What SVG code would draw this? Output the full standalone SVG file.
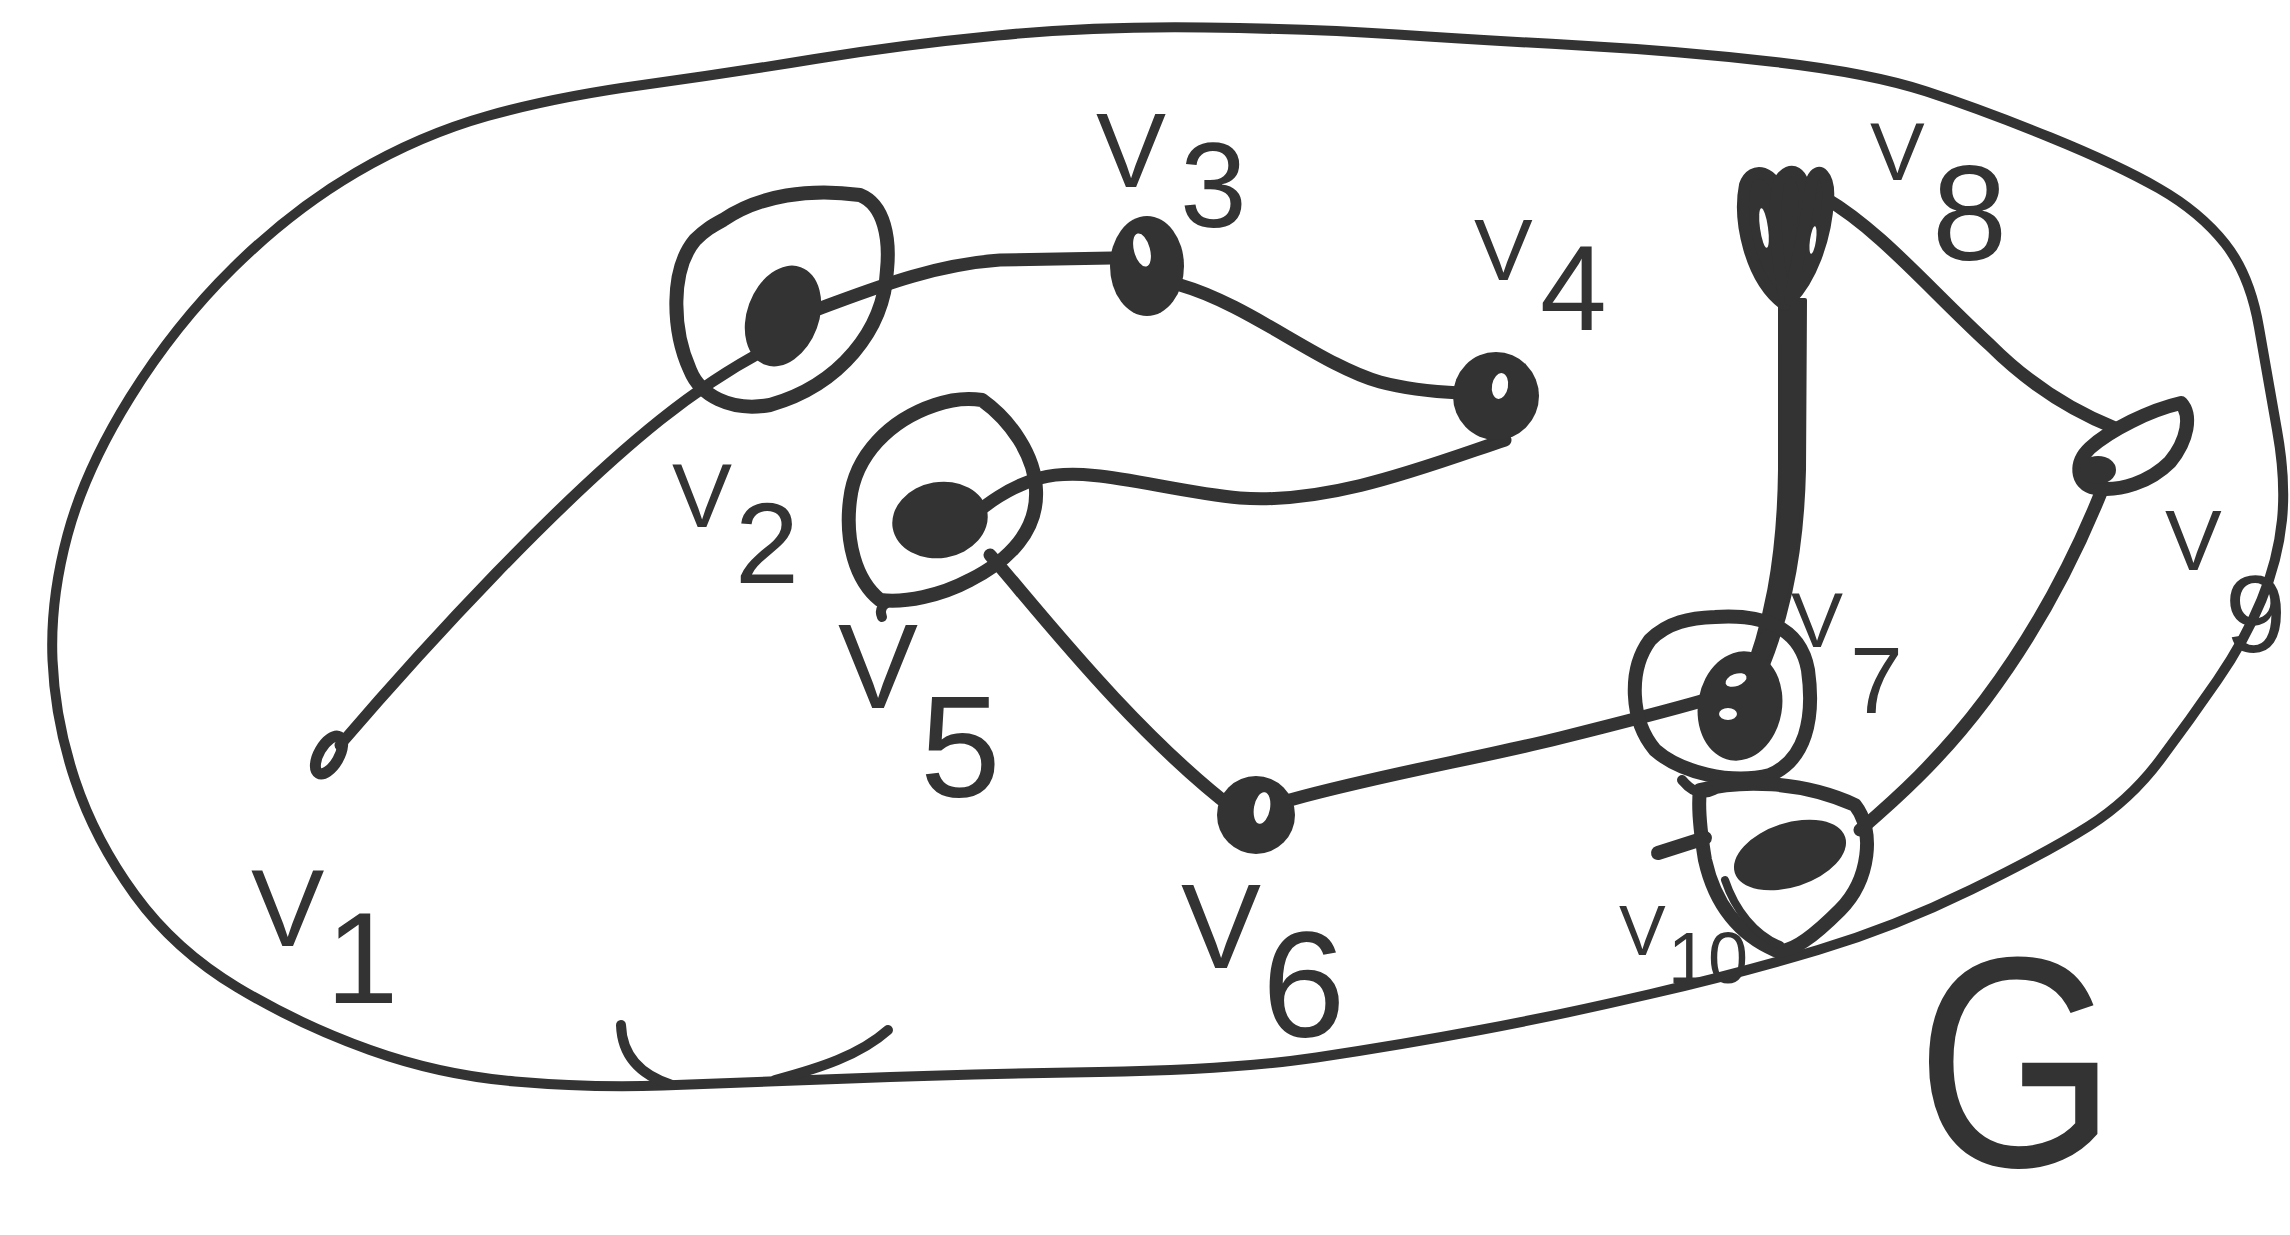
<svg xmlns="http://www.w3.org/2000/svg" width="2290" height="1235" viewBox="0 0 2290 1235">
<style>
.bd{fill:none;stroke:#333;stroke-width:10;stroke-linecap:round;stroke-linejoin:round}
.edge{fill:none;stroke:#333;stroke-width:13;stroke-linecap:round;stroke-linejoin:round}
.ring{fill:none;stroke:#333;stroke-width:14;stroke-linecap:round;stroke-linejoin:round}
.dot{fill:#333}
.hole{fill:#fff}
.lbl{fill:#333}
</style>
<rect width="2290" height="1235" fill="#fff"/>
<g id="graph-G">
<path class="bd" d="M 1204.5 27.5 Q 1314 29 1397 34.5 Q 1480 40 1580 45.5 Q 1680 51 1775 62 Q 1870 73 1926.5 91.5 Q 1983 110 2050.5 137.5 Q 2118 165 2159 188.5 Q 2200 212 2225 243.5 Q 2250 275 2259 327.5 Q 2268 380 2277 430 Q 2286 480 2282 520 Q 2278 560 2261.5 600 Q 2245 640 2217.5 680 Q 2190 720 2160 760 Q 2130 800 2089 826 Q 2048 852 1971.5 889.5 Q 1895 927 1818 950 Q 1741 973 1650.5 994 Q 1560 1015 1480 1030 Q 1400 1045 1316.5 1057.5 Q 1233 1070 1099 1072 Q 965 1074 850 1078.5 Q 735 1083 662.5 1085.5 Q 590 1088 515 1081.5 Q 440 1075 370 1050 Q 300 1025 237.5 987.5 Q 175 950 135 895 Q 95 840 75 780 Q 55 720 52.5 660 Q 50 600 67.5 535 Q 85 470 130 397.5 Q 175 325 233.5 267.5 Q 292 210 356 172.5 Q 420 135 487.5 116 Q 555 97 642.5 85 Q 730 73 815 59 Q 900 45 997.5 35.5 Q 1095 26 1204.5 27.5 Z"/>
<path class="bd" d="M 621 1025 C 622 1055 640 1075 672 1085"/>
<path class="bd" d="M 888 1030 C 860 1055 820 1068 775 1080"/>
<text class="lbl" font-family="'Liberation Sans', Roboto, sans-serif" transform="translate(1916 1166) scale(0.86 1)" font-size="300">G</text>
</g>
<g id="edges">
<path class="edge" style="stroke-width:11" d="M 340 745 C 430 640 560 500 660 420 C 710 380 745 360 775 345"/>
<path class="edge" d="M 815 310 C 870 290 930 265 1000 260 L 1112 258"/>
<path class="edge" d="M 1180 285 C 1250 305 1320 365 1380 382 C 1410 390 1440 392 1460 393"/>
<path class="edge" d="M 1505 440 C 1430 465 1330 505 1240 498 C 1160 490 1090 465 1040 478 C 1010 486 985 505 965 522"/>
<path class="edge" d="M 990 555 C 1030 600 1130 730 1235 810"/>
<path class="edge" d="M 1290 800 C 1380 775 1480 758 1560 738 C 1620 723 1660 713 1705 700"/>
<path class="edge" style="fill:#333;stroke-width:4" d="M 1780 300 L 1805 300 L 1804 470 C 1802 560 1786 630 1755 695 L 1740 689 C 1766 625 1779 560 1780 470 Z"/>
<path class="edge" d="M 1825 198 C 1880 230 1930 290 1990 345 C 2030 385 2075 412 2115 428"/>
<path class="edge" d="M 2102 490 C 2070 570 2030 640 1985 700 C 1940 760 1895 800 1860 830"/>
</g>
<g id="node-v1">
<ellipse class="ring" style="stroke-width:11" cx="329" cy="755" rx="10" ry="21" transform="rotate(30 329 755)"/>
<text class="lbl" font-family="'Liberation Sans', Roboto, sans-serif"><tspan x="251" y="946" font-size="110">V</tspan><tspan x="326" y="1003" font-size="130">1</tspan></text>
</g>
<g id="node-v2">
<path class="ring" d="M 723 220 C 760 195 810 188 860 195 C 885 205 890 240 887 270 C 884 330 840 385 770 405 C 730 412 700 395 690 370 C 672 330 670 270 695 240 C 705 230 712 226 723 220 Z"/>
<ellipse class="dot" cx="783" cy="316" rx="36" ry="52" transform="rotate(20 783 316)"/>
<text class="lbl" font-family="'Liberation Sans', Roboto, sans-serif"><tspan x="672" y="527" font-size="90">V</tspan><tspan x="735" y="583" font-size="115">2</tspan></text>
</g>
<g id="node-v3">
<ellipse class="dot" cx="1147" cy="266" rx="37" ry="50"/>
<ellipse class="hole" cx="1142" cy="250" rx="8" ry="17" transform="rotate(-15 1142 250)"/>
<text class="lbl" font-family="'Liberation Sans', Roboto, sans-serif"><tspan x="1096" y="187" font-size="105">V</tspan><tspan x="1180" y="227" font-size="120">3</tspan></text>
</g>
<g id="node-v4">
<ellipse class="dot" cx="1496" cy="396" rx="43" ry="44"/>
<ellipse class="hole" cx="1500" cy="386" rx="8" ry="13" transform="rotate(10 1500 386)"/>
<text class="lbl" font-family="'Liberation Sans', Roboto, sans-serif"><tspan x="1474" y="280" font-size="88">V</tspan><tspan x="1540" y="330" font-size="120">4</tspan></text>
</g>
<g id="node-v5">
<path class="ring" d="M 982 400 C 1010 420 1035 455 1036 490 C 1038 530 1010 560 970 580 C 940 596 905 603 880 600 C 855 580 845 540 850 500 C 855 455 890 420 935 405 C 955 398 970 398 982 400 Z"/>
<path class="ring" style="stroke-width:10" d="M 892 600 C 882 604 879 610 882 617"/>
<ellipse class="dot" cx="940" cy="520" rx="48" ry="38" transform="rotate(-10 940 520)"/>
<text class="lbl" font-family="'Liberation Sans', Roboto, sans-serif"><tspan x="838" y="708" font-size="120">V</tspan><tspan x="920" y="797" font-size="145">5</tspan></text>
</g>
<g id="node-v6">
<ellipse class="dot" cx="1256" cy="815" rx="39" ry="39"/>
<ellipse class="hole" cx="1262" cy="808" rx="8" ry="16" transform="rotate(10 1262 808)"/>
<text class="lbl" font-family="'Liberation Sans', Roboto, sans-serif"><tspan x="1181" y="968" font-size="120">V</tspan><tspan x="1262" y="1037" font-size="150">6</tspan></text>
</g>
<g id="node-v7">
<path class="ring" d="M 1715 617 C 1760 614 1800 625 1808 670 C 1815 720 1805 760 1770 775 C 1730 785 1680 772 1655 750 C 1630 720 1628 670 1650 640 C 1668 622 1690 618 1715 617 Z"/>
<ellipse class="dot" cx="1740" cy="706" rx="42" ry="55" transform="rotate(10 1740 706)"/>
<ellipse class="hole" cx="1736" cy="680" rx="11" ry="6" transform="rotate(-20 1736 680)"/>
<ellipse class="hole" cx="1728" cy="714" rx="9" ry="6"/>
<text class="lbl" font-family="'Liberation Sans', Roboto, sans-serif"><tspan x="1791" y="647" font-size="78">V</tspan><tspan x="1850" y="713" font-size="95">7</tspan></text>
</g>
<g id="node-v8">
<path class="ring" style="fill:#333;stroke-width:12" d="M 1785 305 C 1750 280 1738 220 1745 185 C 1752 165 1775 170 1782 200 L 1785 305 Z"/>
<path class="ring" style="fill:#333;stroke-width:12" d="M 1785 300 C 1775 250 1772 200 1780 180 C 1790 165 1805 170 1805 200 C 1803 240 1795 280 1785 300 Z"/>
<path class="ring" style="fill:#333;stroke-width:12" d="M 1790 300 C 1800 250 1810 200 1812 180 C 1818 165 1830 175 1828 200 C 1826 240 1810 280 1790 300 Z"/>
<ellipse class="hole" cx="1764" cy="228" rx="4" ry="20" transform="rotate(-8 1764 228)"/>
<ellipse class="hole" cx="1813" cy="240" rx="3" ry="14" transform="rotate(8 1813 240)"/>
<text class="lbl" font-family="'Liberation Sans', Roboto, sans-serif"><tspan x="1870" y="180" font-size="82">V</tspan><tspan x="1932" y="260" font-size="135">8</tspan></text>
</g>
<g id="node-v9">
<path class="ring" d="M 2181 403 C 2192 415 2188 440 2170 462 C 2150 482 2120 492 2095 488 C 2075 484 2075 462 2090 448 C 2110 430 2150 410 2181 403 Z"/>
<ellipse class="dot" cx="2098" cy="470" rx="18" ry="14"/>
<text class="lbl" font-family="'Liberation Sans', Roboto, sans-serif"><tspan x="2165" y="570" font-size="85">V</tspan><tspan x="2225" y="652" font-size="110">9</tspan></text>
</g>
<g id="node-v10">
<path class="ring" d="M 1700 790 C 1740 780 1800 780 1855 805 C 1875 830 1870 880 1840 910 C 1815 935 1790 955 1775 950 C 1740 935 1715 905 1705 860 C 1700 830 1698 805 1700 790 Z"/>
<path class="ring" style="stroke-width:8" d="M 1725 880 C 1735 910 1755 935 1780 945"/>
<path class="ring" style="stroke-width:10" d="M 1682 780 C 1692 792 1702 796 1714 790"/>
<path class="ring" d="M 1658 853 L 1705 838"/>
<ellipse class="dot" cx="1790" cy="855" rx="58" ry="32" transform="rotate(-18 1790 855)"/>
<text class="lbl" font-family="'Liberation Sans', Roboto, sans-serif"><tspan x="1619" y="955" font-size="70">V</tspan><tspan x="1668" y="983" font-size="72">10</tspan></text>
</g>
</svg>
